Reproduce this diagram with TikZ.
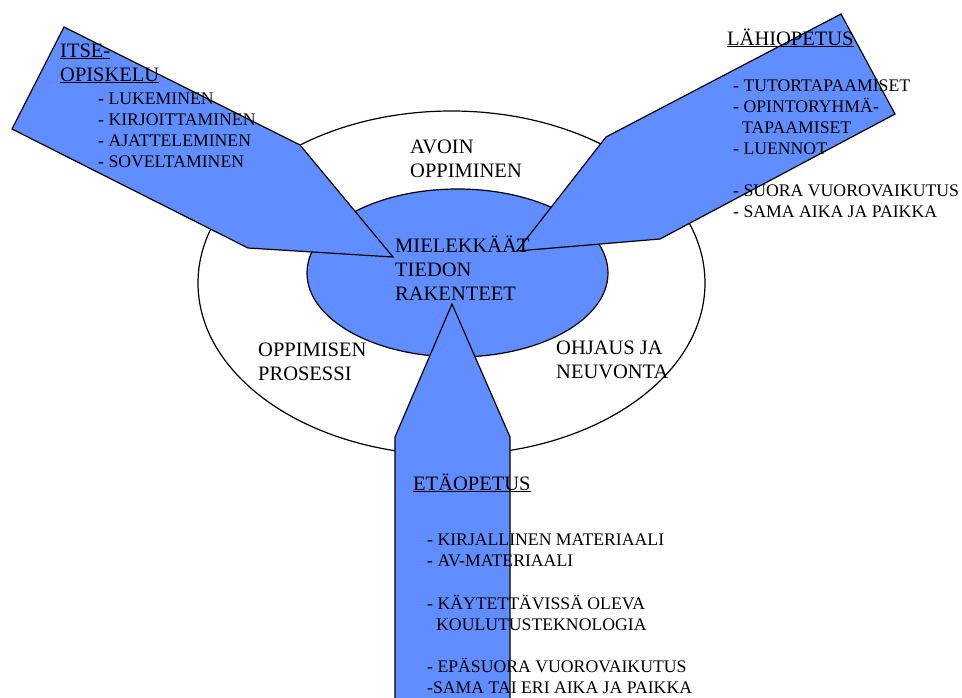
\documentclass[tikz,border=0pt]{standalone}
\usepackage{fontspec}
\setmainfont{Liberation Serif}
\usetikzlibrary{shapes.geometric}
\definecolor{oppisin}{RGB}{96,141,255}
\tikzset{
	rengas/.style={ellipse,draw,line width=1.2pt,inner sep=0pt},
	nuoli/.style={draw,line width=1.2pt,fill=oppisin,line join=miter},
	otsikko/.style={anchor=base west,inner sep=0pt,align=left,font=\fontsize{20.5}{24}\selectfont},
	lista/.style={anchor=base west,inner sep=0pt,align=left,font=\fontsize{17.7}{21}\selectfont}
}

\begin{document}
\begin{tikzpicture}[x=1pt,y=-1pt]
			\useasboundingbox (0,0) rectangle (962,697);
			\node[rengas,fill=white,minimum width=507pt,minimum height=344pt] (ulko) at (451.5,283) {};
			\node[rengas,fill=oppisin,minimum width=301pt,minimum height=168pt] (sisa) at (457.5,273) {};

			\filldraw[nuoli] (64,27) -- (300,145) -- (393,257) -- (248,248) -- (12,129) -- cycle;
			\filldraw[nuoli] (841,14) -- (895,114) -- (660,239) -- (517,251) -- (606,137) -- cycle;
			\filldraw[nuoli] (452,304) -- (510,437) -- (510,710) -- (395,710) -- (395,437) -- cycle;

			\node[otsikko] (avoin) at (410,177) {AVOIN\\OPPIMINEN};
			\node[otsikko] (tieto) at (395,300) {MIELEKKÄÄT\\TIEDON\\RAKENTEET};
			\node[otsikko] (prosessi) at (258,380) {OPPIMISEN\\PROSESSI};
			\node[otsikko] (ohjaus) at (556,378) {OHJAUS JA\\NEUVONTA};

			\node[otsikko] (itse) at (60,81) {\underline{ITSE-}\\\underline{OPISKELU}};
			\node[lista] (itselista) at (98,167) {- LUKEMINEN\\- KIRJOITTAMINEN\\- AJATTELEMINEN\\- SOVELTAMINEN};

			\node[otsikko] (lahi) at (727,45) {\underline{LÄHIOPETUS}};
			\node[lista] (lahilista) at (733,217) {- TUTORTAPAAMISET\\- OPINTORYHMÄ-\\\hspace{9pt}TAPAAMISET\\- LUENNOT\\[21pt]- SUORA VUOROVAIKUTUS\\- SAMA AIKA JA PAIKKA};

			\node[otsikko] (eta) at (413,490) {\underline{ETÄOPETUS}};
			\node[lista] (etalista) at (427,693) {- KIRJALLINEN MATERIAALI\\- AV-MATERIAALI\\[22pt]- KÄYTETTÄVISSÄ OLEVA\\\hspace{9pt}KOULUTUSTEKNOLOGIA\\[21pt]- EPÄSUORA VUOROVAIKUTUS\\-SAMA TAI ERI AIKA JA PAIKKA};
		\end{tikzpicture}
\end{document}
